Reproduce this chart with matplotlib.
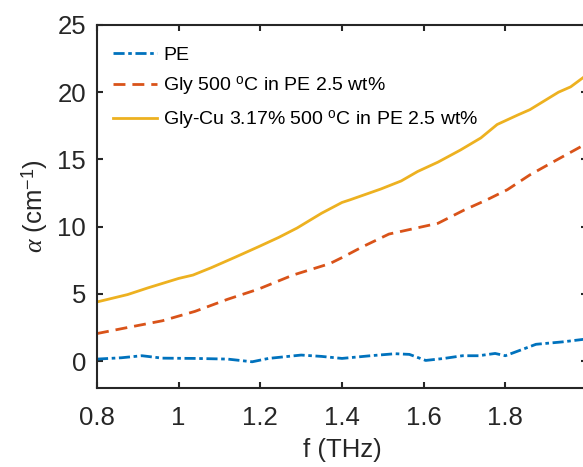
import matplotlib
matplotlib.use('Agg')
import matplotlib.pyplot as plt

plt.rcParams['font.family'] = ['Liberation Sans', 'DejaVu Sans']
plt.rcParams['mathtext.fontset'] = 'custom'
plt.rcParams['mathtext.rm'] = 'Liberation Sans'
plt.rcParams['mathtext.it'] = 'Liberation Serif:italic'

# PE
f_pe = [0.8, 0.86, 0.91, 0.96, 1.04, 1.12, 1.18, 1.22, 1.30, 1.35, 1.40, 1.47,
        1.53, 1.565, 1.605, 1.65, 1.695, 1.735, 1.775, 1.80, 1.84, 1.875, 1.94, 2.0]
a_pe = [0.15, 0.25, 0.4, 0.22, 0.2, 0.15, -0.05, 0.2, 0.45, 0.35, 0.2, 0.4,
        0.55, 0.5, 0.05, 0.2, 0.4, 0.4, 0.57, 0.4, 0.85, 1.25, 1.43, 1.65]

# Gly 500 C
f_gly = [0.8, 0.875, 0.96, 1.04, 1.12, 1.195, 1.28, 1.37, 1.40, 1.45, 1.515,
         1.575, 1.635, 1.70, 1.755, 1.805, 1.86, 1.925, 2.0]
a_gly = [2.05, 2.5, 3.0, 3.7, 4.6, 5.35, 6.4, 7.25, 7.7, 8.5, 9.45,
         9.85, 10.25, 11.25, 12.0, 12.75, 13.85, 14.95, 16.2]

# Gly-Cu
f_cu = [0.8, 0.875, 0.925, 1.0, 1.035, 1.08, 1.14, 1.195, 1.245, 1.29, 1.35,
        1.40, 1.42, 1.495, 1.545, 1.585, 1.635, 1.69, 1.74, 1.78, 1.83, 1.86,
        1.93, 1.96, 2.0]
a_cu = [4.4, 4.95, 5.45, 6.15, 6.4, 6.95, 7.75, 8.5, 9.2, 9.9, 11.0,
        11.8, 12.0, 12.8, 13.4, 14.1, 14.8, 15.7, 16.6, 17.6, 18.3, 18.7,
        20.0, 20.4, 21.3]

labels = ['PE',
          r'Gly 500 $^{\rm o}$C in PE 2.5 wt%',
          r'Gly-Cu 3.17% 500 $^{\rm o}$C in PE 2.5 wt%']
xticks = [0.8, 1.0, 1.2, 1.4, 1.6, 1.8, 2.0]
xticklabels = ['0.8', '1', '1.2', '1.4', '1.6', '1.8', '']  # "2" is off the edge
yticks = [0, 5, 10, 15, 20, 25]

fig = plt.figure(figsize=(5.83, 4.67), dpi=100)
ax = fig.add_axes([97/583, 79/467, 490/583, 363/467])

lw = 2.0
ax.plot(f_pe, a_pe, color='#0072BD', lw=lw, dashes=(4, 1.3, 1.3, 1.3), label=labels[0])
ax.plot(f_gly, a_gly, color='#D95319', lw=lw, dashes=(4.3, 2.5), label=labels[1])
ax.plot(f_cu, a_cu, color='#EDB120', lw=lw, label=labels[2])

ax.set_xlim(0.8, 2.0)
ax.set_ylim(-2, 25)
ax.set_xticks(xticks)
ax.set_xticklabels(xticklabels)
ax.set_yticks(yticks)

dark = '#262626'
for s in ax.spines.values():
    s.set_color(dark)
    s.set_linewidth(1.5)
ax.tick_params(direction='in', length=4, width=1.5, colors=dark,
               labelsize=18.5, top=True, right=True)
ax.tick_params(axis='x', pad=13)
ax.tick_params(axis='y', pad=8)

ax.set_xlabel('f (THz)', fontsize=18.5, color=dark, labelpad=6)
ax.set_ylabel(r'$\alpha$ (cm$^{-1}$)', fontsize=18.5, color=dark, labelpad=5)

ax.legend(loc='upper left', bbox_to_anchor=(-0.012, 1.0), frameon=False, fontsize=14,
          handlelength=2.3, handletextpad=0.3, labelspacing=0.55, borderaxespad=0.7)

fig.savefig('out.png', dpi=100)
